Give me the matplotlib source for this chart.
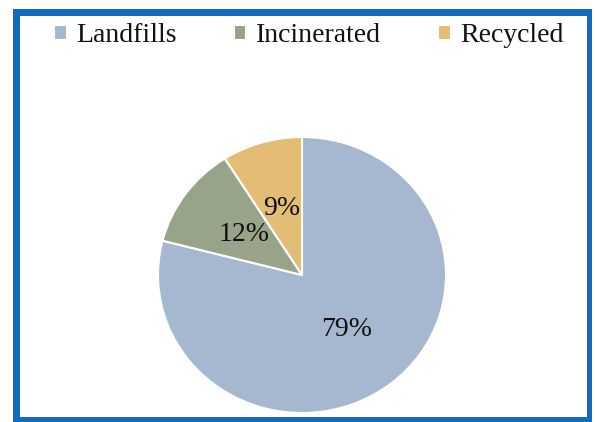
import matplotlib.pyplot as plt
from matplotlib.patches import Rectangle

labels = ["Landfills", "Incinerated", "Recycled"]
shares = [79, 12, 9]
colors = ["#A5B8CF", "#97A48A", "#E3BD76"]

W, H = 595, 422
plt.rcParams["font.family"] = ["Liberation Serif", "DejaVu Serif"]

fig = plt.figure(figsize=(W / 100, H / 100), dpi=100)

# pie area in pixel coords (left, top, right, bottom)
px0, py0, px1, py1 = 158, 137, 446, 413
ax = fig.add_axes([px0 / W, 1 - py1 / H, (px1 - px0) / W, (py1 - py0) / H])
wedges, texts, autotexts = ax.pie(
    shares, colors=colors, startangle=90, counterclock=False,
    autopct="%d%%", pctdistance=0.5,
    wedgeprops=dict(edgecolor="white", linewidth=1.5),
    textprops=dict(fontsize=20, color="#111111"),
)
ax.set_aspect("auto")
ax.set_xlim(-1, 1)
ax.set_ylim(-1, 1)

fig.legend(wedges, labels, loc="center", bbox_to_anchor=(309 / W, 1 - 36 / H),
           ncol=3, frameon=False, fontsize=20, handlelength=0.45, handleheight=0.45,
           handletextpad=0.35, columnspacing=2.05, labelcolor="#111111")


def frame_bar(x0, y0, x1, y1):
    # filled strip given in pixel coords (top-left origin)
    fig.patches.append(Rectangle((x0 / W, 1 - y1 / H), (x1 - x0) / W, (y1 - y0) / H,
                                 transform=fig.transFigure, facecolor="#0A6FC4",
                                 edgecolor="none", zorder=5))


frame_bar(13, 9, 592, 16)     # top
frame_bar(13, 9, 20, 422)     # left
frame_bar(587, 9, 592, 422)   # right
frame_bar(13, 417, 592, 422)  # bottom

fig.savefig("out.png", dpi=100)
